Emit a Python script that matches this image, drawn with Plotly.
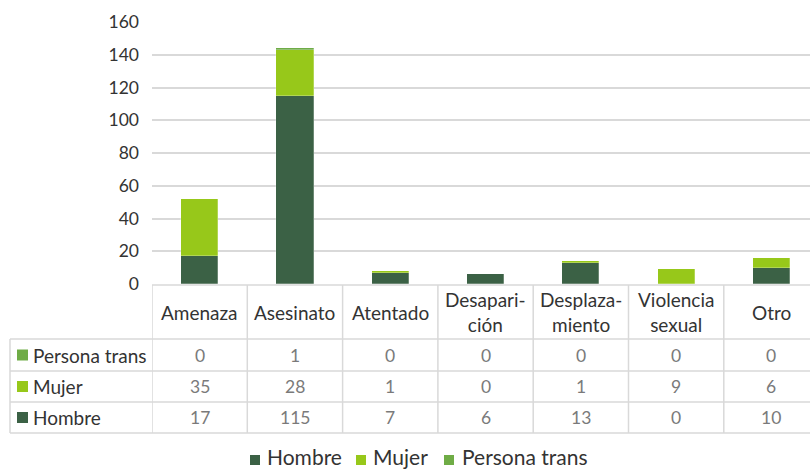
import plotly.graph_objects as go

categories = ["Amenaza", "Asesinato", "Atentado", "Desaparición", "Desplazamiento", "Violencia sexual", "Otro"]
category_labels = ["Amenaza", "Asesinato", "Atentado", "Desapari-<br>ción", "Desplaza-<br>miento", "Violencia<br>sexual", "Otro"]
hombre = [17, 115, 7, 6, 13, 0, 10]
mujer = [35, 28, 1, 0, 1, 9, 6]
persona_trans = [0, 1, 0, 0, 0, 0, 0]
y_ticks = [0, 20, 40, 60, 80, 100, 120, 140, 160]

series = [
    ("Hombre", hombre, "#3B6145"),
    ("Mujer", mujer, "#97C81A"),
    ("Persona trans", persona_trans, "#6FAC46"),
]

W, H = 810, 469
FONT = "Lato, 'Open Sans', sans-serif"
GRID = "#D9D9D9"
DARK = "#333333"
GREY = "#7A7A7A"


def px(x):
    return x / W


def py(y):
    return 1 - y / H


xpos = list(range(len(categories)))
cat_w = 95.3
x_left = 152

fig = go.Figure()
for name, vals, color in series:
    fig.add_trace(go.Bar(
        x=xpos, y=vals, name=name, width=0.39,
        marker=dict(color=color, line=dict(color="rgba(255,255,255,0.5)", width=0.5)),
        showlegend=False,
    ))

shapes = []
annotations = []

# table horizontal lines
shapes.append(dict(type="line", xref="paper", yref="paper", x0=px(x_left), x1=1,
                   y0=py(285), y1=py(285), line=dict(color=GRID, width=1.5)))
for yy in [339, 371, 402, 433]:
    shapes.append(dict(type="line", xref="paper", yref="paper", x0=px(10), x1=1,
                       y0=py(yy), y1=py(yy), line=dict(color=GRID, width=1.5)))
# table vertical lines
for i in range(len(categories)):
    shapes.append(dict(type="line", xref="x", yref="paper", x0=i - 0.5, x1=i - 0.5,
                       y0=py(285), y1=py(433), line=dict(color=GRID, width=1.5)))
shapes.append(dict(type="line", xref="paper", yref="paper", x0=px(10), x1=px(10),
                   y0=py(339), y1=py(433), line=dict(color=GRID, width=1.5)))

# header labels
for i, lab in enumerate(category_labels):
    annotations.append(dict(x=i, y=py(312), xref="x", yref="paper", text=lab,
                            showarrow=False, font=dict(family=FONT, size=19, color=DARK),
                            xanchor="center", yanchor="middle", align="center"))

# rows (top to bottom: Persona trans, Mujer, Hombre)
row_centers = [355, 386.5, 417.5]
for (name, vals, color), yc in zip(reversed(series), row_centers):
    shapes.append(dict(type="rect", xref="paper", yref="paper",
                       x0=px(17), x1=px(28), y0=py(yc - 5.5), y1=py(yc + 5.5),
                       fillcolor=color, line=dict(width=0)))
    annotations.append(dict(x=px(31), y=py(yc), xref="paper", yref="paper", text=name,
                            showarrow=False, font=dict(family=FONT, size=19, color=DARK),
                            xanchor="left", yanchor="middle"))
    for i, v in enumerate(vals):
        annotations.append(dict(x=i, y=py(yc), xref="x", yref="paper", text=str(v),
                                showarrow=False, font=dict(family=FONT, size=17.5, color=GREY),
                                xanchor="center", yanchor="middle"))

# bottom legend
legend_items = [(250, 267), (356, 373), (444, 462)]
for (name, vals, color), (sx, tx) in zip(series, legend_items):
    shapes.append(dict(type="rect", xref="paper", yref="paper",
                       x0=px(sx), x1=px(sx + 10), y0=py(465), y1=py(455),
                       fillcolor=color, line=dict(width=0)))
    annotations.append(dict(x=px(tx - 2), y=py(456.5), xref="paper", yref="paper", text=name,
                            showarrow=False, font=dict(family=FONT, size=21, color=DARK),
                            xanchor="left", yanchor="middle"))

fig.update_layout(
    width=W, height=H,
    margin=dict(l=0, r=0, t=0, b=0, autoexpand=False),
    paper_bgcolor="white", plot_bgcolor="white",
    barmode="stack",
    bargap=0,
    xaxis=dict(domain=[px(x_left), 1], range=[-0.5, -0.5 + (W - x_left) / cat_w],
               visible=False, fixedrange=True, automargin=False),
    yaxis=dict(domain=[py(284), py(22)], range=[0, 160], tickvals=y_ticks,
               showgrid=True, gridcolor=GRID, gridwidth=1.5, zeroline=False,
               showline=False, ticks="", ticklabelstandoff=12, automargin=False,
               tickfont=dict(family=FONT, size=17.5, color=DARK)),
    shapes=shapes,
    annotations=annotations,
    showlegend=False,
)

fig.write_html("out.html", config={"displayModeBar": False},
               post_script="document.body.style.margin='0';")
